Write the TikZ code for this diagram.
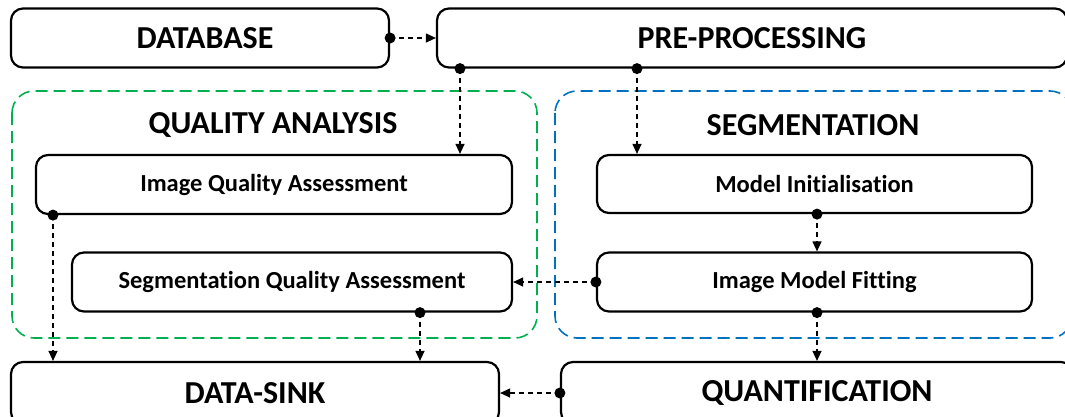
\documentclass[tikz,border=0pt]{standalone}
\usepackage{fontspec}
\setmainfont{Carlito}[Ligatures=NoCommon]
\usetikzlibrary{arrows.meta,calc}
\definecolor{qgreen}{RGB}{0,176,80}
\definecolor{sblue}{RGB}{0,112,192}
\begin{document}
\begin{tikzpicture}[x=1pt,y=-1pt,
  bigbox/.style={draw,line width=2.2pt,rounded corners=12pt,font=\fontsize{32}{36}\selectfont\bfseries,inner sep=0pt},
  smallbox/.style={draw,line width=2.2pt,rounded corners=12pt,font=\fontsize{24.5}{28}\selectfont\bfseries,inner sep=0pt},
  group/.style={line width=1.6pt,rounded corners=22pt,dash pattern=on 12pt off 6pt},
  grouptitle/.style={font=\fontsize{32}{36}\selectfont\bfseries,inner sep=0pt},
  conn/.style={line width=1.2pt,dash pattern=on 5pt off 4pt,-{Triangle[length=10pt,width=9pt]}},
  dot/.style={circle,fill=black,inner sep=0pt,minimum size=11pt}]
\useasboundingbox (0,0) rectangle (1065,416);
% groups
\draw[group,qgreen] (12,91) rectangle (537,338);
\draw[group,sblue] (555,91) rectangle (1072,338);
\node[grouptitle] (qa) at (273,125) {QUALITY ANALYSIS};
\node[grouptitle] (seg) at (813,125) {SEGMENTATION};
% boxes
\node[bigbox,minimum width=378pt,minimum height=59pt] (db) at (200,38) {\hspace*{10pt}DATABASE};
\node[bigbox,minimum width=630pt,minimum height=59pt] (pre) at (752,38) {PRE-PROCESSING};
\node[smallbox,minimum width=476pt,minimum height=59pt] (iqa) at (274,184.5) {Image Quality Assessment};
\node[smallbox,minimum width=440pt,minimum height=59pt] (sqa) at (292,282) {Segmentation Quality Assessment};
\node[smallbox,minimum width=435pt,minimum height=58pt] (mi) at (814.5,184) {Model Initialisation};
\node[smallbox,minimum width=435pt,minimum height=59pt] (imf) at (814.5,282) {Image Model Fitting};
\node[bigbox,minimum width=488pt,minimum height=62pt] (ds) at (255,393) {DATA-SINK};
\node[bigbox,minimum width=512pt,minimum height=62pt] (qu) at (817,393) {QUANTIFICATION};
% x positions of connectors
\coordinate (xa) at (460,0);
\coordinate (xb) at (637,0);
\coordinate (xc) at (53,0);
\coordinate (xd) at (420,0);
\coordinate (xe) at (817,0);
% connectors
\draw[conn] (db.east) -- (pre.west);
\node[dot] (d1) at (db.east) {};
\draw[conn] (pre.south -| xa) -- (iqa.north -| xa);
\node[dot] (d2) at (pre.south -| xa) {};
\draw[conn] (pre.south -| xb) -- (mi.north -| xb);
\node[dot] (d3) at (pre.south -| xb) {};
\draw[conn] (iqa.south -| xc) -- (ds.north -| xc);
\node[dot] (d4) at (iqa.south -| xc) {};
\draw[conn] (sqa.south -| xd) -- (ds.north -| xd);
\node[dot] (d5) at (sqa.south -| xd) {};
\draw[conn] (mi.south -| xe) -- (imf.north -| xe);
\node[dot] (d6) at (mi.south -| xe) {};
\draw[conn] (imf.west) -- (sqa.east);
\node[dot] (d7) at (imf.west) {};
\draw[conn] (imf.south -| xe) -- (qu.north -| xe);
\node[dot] (d8) at (imf.south -| xe) {};
\draw[conn] (qu.west) -- (ds.east);
\node[dot] (d9) at (qu.west) {};
\end{tikzpicture}
\end{document}
